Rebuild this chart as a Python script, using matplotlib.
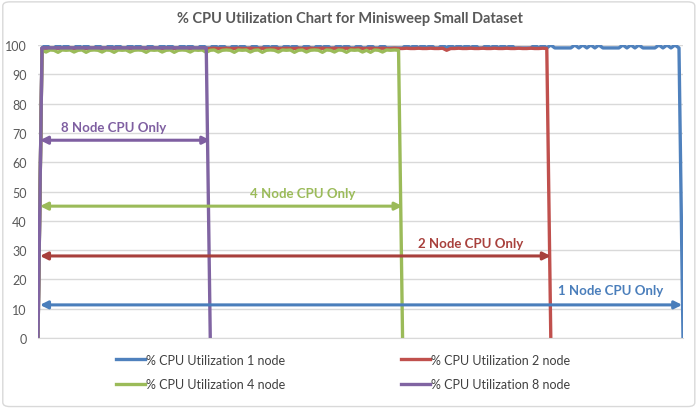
import matplotlib
matplotlib.use("Agg")
import matplotlib.pyplot as plt
from matplotlib.patches import FancyBboxPatch

# % CPU utilization per sample (one sample ~ 4 px)
cpu_1node = [0,
    99, 100, 99, 99, 100, 99, 100, 99, 99, 100, 99, 100, 99, 99, 100, 99, 99, 100, 99, 100,
    99, 99, 100, 99, 100, 99, 99, 100, 99, 99, 100, 99, 100, 99, 99, 100, 99, 100, 99, 99,
    100, 99, 99, 100, 99, 100, 99, 99, 100, 99, 100, 99, 99, 100, 99, 99, 100, 99, 100, 99,
    99, 100, 99, 100, 99, 99, 100, 99, 99, 100, 99, 100, 99, 99, 100, 99, 100, 99, 99, 100,
    99, 99, 100, 99, 99, 100, 99, 99, 99, 99, 99,
    100, 99, 100, 99, 100, 99, 100, 99, 99, 100, 99, 100, 99, 100, 99, 100, 99, 100,
    99, 99, 100, 99, 100, 99, 100, 99, 100, 99, 99, 99, 99, 99,
    100, 99, 100, 99, 100, 99, 99, 99, 99, 99,
    100, 99, 100, 99, 100, 99, 100, 99, 99, 99, 99, 99,
    100, 99, 100, 99, 100, 99, 99, 99, 99,
    100, 99, 100, 99, 100, 99, 0]

cpu_2node = [0,
    98.8, 98.9, 98.8, 98.8, 98.9, 98.8, 98.8, 98.9, 98.8, 98.8, 98.9, 98.8, 98.8, 98.9, 98.8, 98.8,
    98.9, 98.8, 98.8, 98.9, 98.8, 98.8, 98.9, 98.8, 98.8, 98.9, 98.8, 98.8, 98.9, 98.8, 98.8, 98.9,
    98.8, 98.8, 98.9, 98.8, 98.8, 98.9, 98.8, 98.8, 98.9, 98.8, 98.8, 98.9, 98.8, 98.8, 98.9, 98.8,
    98.8, 98.9, 98.8, 98.8, 98.9, 98.8, 98.8, 98.9, 98.8, 98.8, 98.9, 98.8, 98.8, 98.9, 98.8, 98.8,
    98.9, 98.8, 98.8, 98.9, 98.8, 98.8, 98.9, 98.8, 98.8, 98.9, 98.8, 98.8, 98.9, 98.8, 98.8, 98.9,
    98.8, 98.8, 98.9, 98.8, 98.8, 98.9, 98.8, 98.8, 98.9, 98.8, 98.8, 98.9, 98.8, 98.8, 98.9, 98.8,
    98.8, 98.9, 98.8, 98.8, 98.9, 98.2, 98.8, 98.8, 98.9, 98.8, 98.8, 98.9, 98.8, 98.8, 98.9, 98.8,
    98.8, 98.9, 98.8, 98.8, 98.9, 98.8, 98.8, 98.9, 98.8, 98.8, 98.9, 98.8, 98.8, 98.9, 98.8,
    0]

cpu_4node = [0,
    98.2, 97.6, 98.3, 98.2, 97.5, 98.3, 98.2, 98.3, 97.6, 98.2, 98.3, 97.5, 98.2, 98.3, 98.2,
    97.6, 98.3, 98.2, 97.5, 98.3, 98.2, 98.3, 97.6, 98.2, 98.3, 98.2, 97.5, 98.3, 98.2, 98.3,
    97.6, 98.2, 98.3, 97.5, 98.2, 98.3, 98.2, 97.6, 98.3, 98.2, 98.3, 97.5, 98.2, 98.3, 97.6,
    98.2, 98.3, 98.2, 97.5, 98.3, 98.2, 98.3, 97.6, 98.2, 98.3, 97.5, 98.2, 98.3, 98.2, 97.6,
    98.3, 98.2, 98.3, 97.5, 98.2, 98.3, 97.6, 98.2, 98.3, 98.2, 97.5, 98.3, 98.2, 97.6, 98.3,
    98.2, 97.5, 98.3, 98.2, 98.3, 97.6, 98.2, 97.5, 98.3, 98.2, 97.6, 98.3, 98.2, 98.3, 98.2,
    0]

cpu_8node = [0,
    99, 99, 99, 99, 99, 99, 99, 99, 99, 99, 99, 99, 99, 99, 99, 99, 99, 99, 99, 99, 99,
    99, 99, 99, 99, 99, 99, 99, 99, 99, 99, 99, 99, 99, 99, 99, 99, 99, 99, 99, 99, 99,
    0]

series_labels = ["% CPU Utilization 1 node", "% CPU Utilization 2 node",
                 "% CPU Utilization 4 node", "% CPU Utilization 8 node"]
colors = ["#4F81BD", "#C0504D", "#9BBB59", "#8064A2"]

# double-arrow annotations: (label, start x, end x, y, colour, label x, label y)
notes = [
    ("8 Node CPU Only", 0.5, 43, 67.5, "#7F5FA1", 19, 69.8),
    ("4 Node CPU Only", 0.5, 91, 45, "#9BBB59", 66, 47.5),
    ("2 Node CPU Only", 0.5, 128, 28, "#A8403C", 108, 30.5),
    ("1 Node CPU Only", 0.5, 160.8, 11.3, "#4A7EBB", 143, 14.4),
]

plt.rcParams['font.family'] = ['Lato', 'DejaVu Sans']

fig = plt.figure(figsize=(6.99, 4.10), dpi=100)
ax = fig.add_axes([38 / 699, 71 / 410, 645 / 699, 293 / 410])

for vals, lab, c in zip([cpu_1node, cpu_2node, cpu_4node, cpu_8node], series_labels, colors):
    ax.plot(range(len(vals)), vals, color=c, lw=2.4, label=lab, solid_joinstyle='round')

for text, x0, x1, y, c, tx, ty in notes:
    ax.annotate("", xy=(x1, y), xytext=(x0, y),
                arrowprops=dict(arrowstyle='<|-|>', color=c, lw=2.2, mutation_scale=11,
                                shrinkA=0, shrinkB=0))
    ax.text(tx, ty, text, color=c, fontsize=9.5, fontweight='bold', ha='center', va='bottom')

ax.set_xlim(0, 161)
ax.set_ylim(0, 100)
ax.set_yticks(range(0, 101, 10))
ax.set_xticks([])
ax.grid(axis='y', color='#D9D9D9', lw=1)
ax.set_axisbelow(True)
for s in ['top', 'right', 'left']:
    ax.spines[s].set_visible(False)
ax.spines['bottom'].set_color('#D9D9D9')
ax.tick_params(axis='y', length=0, labelsize=9, colors='#595959', pad=8)

fig.text(0.5, 1 - 19 / 410, "% CPU Utilization Chart for Minisweep Small Dataset",
         ha='center', va='center', fontsize=10.5, fontweight='bold', color='#595959')

h, l = ax.get_legend_handles_labels()
order = [0, 2, 1, 3]
fig.legend([h[i] for i in order], [l[i] for i in order], ncol=2, frameon=False,
           loc='center', bbox_to_anchor=(0.491, 1 - 373 / 410), fontsize=9,
           handlelength=2.3, handletextpad=0.1, columnspacing=9.3, labelspacing=1.0,
           labelcolor='#404040')

fig.patches.append(FancyBboxPatch((0.004, 0.006), 0.99, 0.987, boxstyle="round,pad=0,rounding_size=0.01",
                                  transform=fig.transFigure, fill=False, ec='#D9D9D9', lw=1))

fig.savefig("out.png", dpi=100)
